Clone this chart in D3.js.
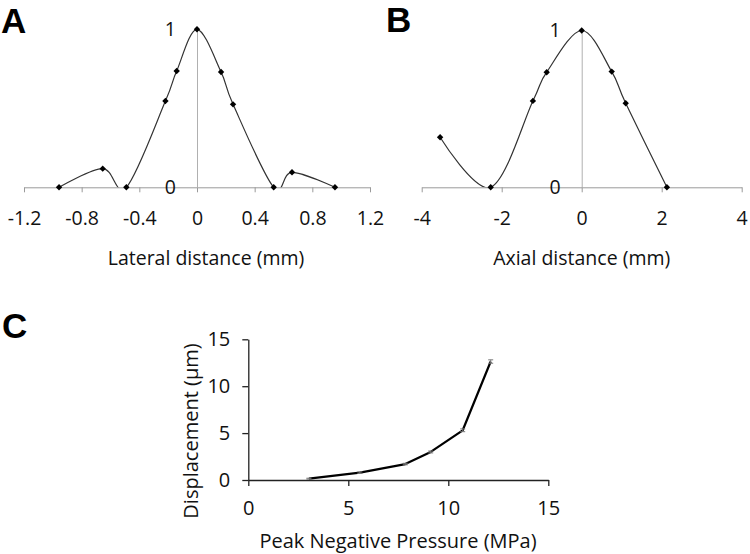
<!DOCTYPE html>
<html><head><meta charset="utf-8">
<script src="https://cdn.jsdelivr.net/npm/d3@7"></script>
<style>
body{margin:0;background:#fff;}
svg{display:block;}
text{font-family:"Open Sans",sans-serif;fill:#111;}
.lab{font-family:"Liberation Sans",Arial,sans-serif;font-weight:bold;font-size:35px;fill:#000;}
</style></head>
<body>
<svg id="c" width="750" height="554"></svg>
<script>
// Panel A – lateral profile
const lateralX = [-0.957, -0.654, -0.49, -0.219, -0.141, 0, 0.167, 0.25, 0.532, 0.659, 0.957];
const lateralY = [0, 0.118, 0, 0.546, 0.736, 1, 0.73, 0.525, 0, 0.095, 0];
const lateralTicks = [-1.2, -0.8, -0.4, 0, 0.4, 0.8, 1.2];
const lateralTickLabels = ["-1.2", "-0.8", "-0.4", "0", "0.4", "0.8", "1.2"];
// Panel B – axial profile
const axialX = [-3.54, -2.275, -1.22, -0.875, 0, 0.75, 1.1, 2.13];
const axialY = [0.319, 0, 0.551, 0.734, 1, 0.738, 0.536, 0];
const axialTicks = [-4, -2, 0, 2, 4];
const axialTickLabels = ["-4", "-2", "0", "2", "4"];
// Panel C – displacement vs pressure
const pressure = [3.03, 5.58, 7.85, 9.12, 10.72, 12.12];
const displacement = [0.14, 0.78, 1.7, 2.99, 5.3, 12.63];
const displacementErr = [0.05, 0.08, 0.08, 0.1, 0.15, 0.18];
const cTicks = [0, 5, 10, 15];
const profileYTicks = [0, 1];

const svg = d3.select("#c");
const fs = "19.5px";

function profile(opts){
  const {x0,x1,xDom,yTop,yBot,xs,ys,ticks,tickFmt,title,lab,labX,labY,clipId} = opts;
  const x = d3.scaleLinear().domain(xDom).range([x0,x1]);
  const y = d3.scaleLinear().domain([0,1]).range([yBot,yTop]);
  const g = svg.append("g");
  // x axis
  const xa = g.append("g").attr("transform",`translate(0,${yBot})`)
    .call(d3.axisBottom(x).tickValues(ticks).tickFormat(tickFmt).tickSize(5).tickSizeOuter(0).tickPadding(19));
  xa.select(".domain").attr("stroke","#9a9a9a");
  xa.selectAll(".tick line").attr("stroke","#9a9a9a");
  xa.selectAll("text").style("font-size",fs).attr("fill","#111").attr("dy","0.71em");
  // y axis at x=0
  const ya = g.append("g").attr("transform",`translate(${x(0)},0)`)
    .call(d3.axisLeft(y).tickValues(profileYTicks).tickFormat(d3.format("d")).tickSize(0).tickPadding(21));
  ya.select(".domain").attr("stroke","#b0b0b0");
  ya.selectAll("text").style("font-size",fs).attr("fill","#111");
  // clip
  svg.append("clipPath").attr("id",clipId).append("rect")
    .attr("x",x0-20).attr("y",yTop-1).attr("width",x1-x0+40).attr("height",yBot-yTop+1);
  const pts = xs.map((v,i)=>[v,ys[i]]);
  const line = d3.line().x(d=>x(d[0])).y(d=>y(d[1])).curve(d3.curveCardinal.tension(0));
  g.append("path").attr("d",line(pts)).attr("fill","none").attr("stroke","#333")
    .attr("stroke-width",1.2).attr("clip-path",`url(#${clipId})`);
  g.selectAll("path.mk").data(pts).join("path").attr("class","mk")
    .attr("d",d3.symbol(d3.symbolDiamond2,26)())
    .attr("transform",d=>`translate(${x(d[0])},${y(d[1])})`).attr("fill","#000");
  g.append("text").attr("x",(x0+x1)/2+opts.titleDx).attr("y",257).attr("text-anchor","middle")
    .attr("dominant-baseline","central").style("font-size",fs).text(title);
  svg.append("text").attr("class","lab").attr("x",labX).attr("y",labY).text(lab);
}

profile({x0:24,x1:370,xDom:[-1.2,1.2],yTop:29.3,yBot:187.3,xs:lateralX,ys:lateralY,
  ticks:lateralTicks,tickFmt:(d,i)=>lateralTickLabels[i],title:"Lateral distance (mm)",titleDx:9,
  lab:"A",labX:1,labY:33,clipId:"clipA"});
profile({x0:421.7,x1:741.7,xDom:[-4,4],yTop:30.5,yBot:187.3,xs:axialX,ys:axialY,
  ticks:axialTicks,tickFmt:(d,i)=>axialTickLabels[i],title:"Axial distance (mm)",titleDx:0,
  lab:"B",labX:386,labY:32,clipId:"clipB"});

// Panel C
(function(){
  const x = d3.scaleLinear().domain([0,15]).range([248.3,548.3]);
  const y = d3.scaleLinear().domain([0,15]).range([480,339.3]);
  const g = svg.append("g");
  const xa = g.append("g").attr("transform","translate(0,480)")
    .call(d3.axisBottom(x).tickValues(cTicks).tickFormat(d3.format("d")).tickSize(6).tickSizeOuter(0).tickPadding(15));
  const ya = g.append("g").attr("transform","translate(248.3,0)")
    .call(d3.axisLeft(y).tickValues(cTicks).tickFormat(d3.format("d")).tickSize(6).tickSizeOuter(0).tickPadding(12));
  [xa,ya].forEach(a=>{
    a.select(".domain").attr("stroke","#222").attr("stroke-width",1.3);
    a.selectAll(".tick line").attr("stroke","#222").attr("stroke-width",1.3);
    a.selectAll("text").style("font-size","20px").attr("fill","#111");
  });
  xa.selectAll("text").attr("dy","0.71em");
  const pts = pressure.map((v,i)=>[v,displacement[i],displacementErr[i]]);
  g.append("path").attr("d",d3.line().x(d=>x(d[0])).y(d=>y(d[1]))(pts))
    .attr("fill","none").attr("stroke","#000").attr("stroke-width",2.2).attr("stroke-linejoin","round");
  const eb = g.selectAll("g.eb").data(pts).join("g").attr("class","eb");
  eb.append("line").attr("x1",d=>x(d[0])).attr("x2",d=>x(d[0]))
    .attr("y1",d=>y(d[1]-d[2])).attr("y2",d=>y(d[1]+d[2])).attr("stroke","#777").attr("stroke-width",1);
  eb.append("line").attr("x1",d=>x(d[0])-2.5).attr("x2",d=>x(d[0])+2.5)
    .attr("y1",d=>y(d[1]+d[2])).attr("y2",d=>y(d[1]+d[2])).attr("stroke","#777").attr("stroke-width",1);
  eb.append("line").attr("x1",d=>x(d[0])-2.5).attr("x2",d=>x(d[0])+2.5)
    .attr("y1",d=>y(d[1]-d[2])).attr("y2",d=>y(d[1]-d[2])).attr("stroke","#777").attr("stroke-width",1);
  g.append("text").attr("x",398).attr("y",540).attr("text-anchor","middle")
    .attr("dominant-baseline","central").style("font-size","20px").text("Peak Negative Pressure (MPa)");
  g.append("text").attr("transform","translate(190,431) rotate(-90)").attr("text-anchor","middle")
    .attr("dominant-baseline","central").style("font-size","20px").text("Displacement (µm)");
  svg.append("text").attr("class","lab").attr("x",2).attr("y",338).text("C");
})();
</script>
</body></html>
